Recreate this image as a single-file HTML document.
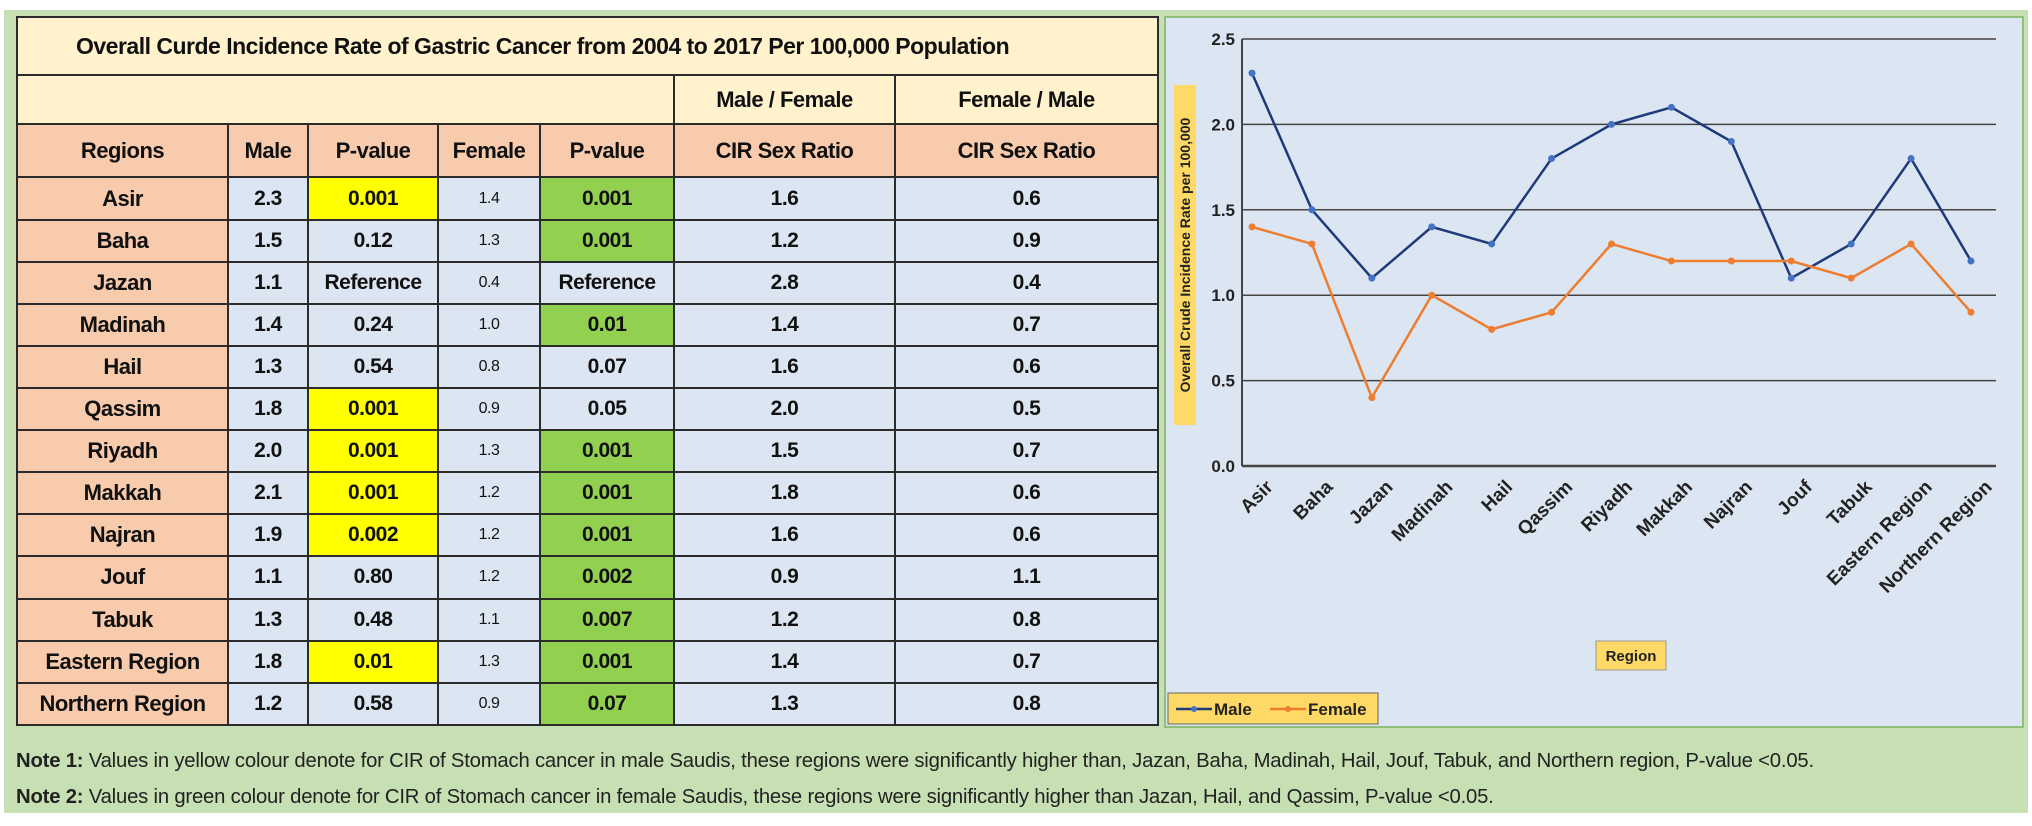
<!DOCTYPE html>
<html><head><meta charset="utf-8">
<style>
body{margin:0;width:2032px;height:826px;background:#fff;position:relative;overflow:hidden;font-family:"Liberation Sans",sans-serif;}
#bg{position:absolute;left:4px;top:10px;width:2024px;height:803px;background:#c6e0b4;}
table{position:absolute;left:16px;top:16px;border-collapse:collapse;table-layout:fixed;width:1141px;height:710px;}
td{border:2px solid #2b2b2b;text-align:center;font-size:21px;font-weight:bold;color:#111;padding:0;background:#dce6f2;letter-spacing:-0.5px;white-space:nowrap;}
td.t{background:#fff2cc;text-align:left;padding-left:58px;font-size:23px;}
td.h1{background:#fff2cc;font-size:22px;}
td.h{background:#f8cbad;font-size:22px;}
td.r{background:#f8cbad;font-size:22px;}
td.y{background:#ffff00;}
td.g{background:#92d050;}
td.f{font-size:16px;font-weight:normal;}
#chartbox{position:absolute;left:1164px;top:16px;width:856px;height:708px;background:#dce6f2;border:2px solid #8fbf7a;}
.note{position:absolute;left:16px;font-size:20.3px;color:#222;letter-spacing:-0.2px;white-space:nowrap;}
</style></head><body>
<div id="bg"></div>
<table>
<colgroup><col style="width:211px"><col style="width:80px"><col style="width:130px"><col style="width:102px"><col style="width:134px"><col style="width:221px"><col style="width:263px"></colgroup>
<tr style="height:58px"><td class="t" colspan="7">Overall Curde Incidence Rate of Gastric Cancer from 2004 to 2017 Per 100,000 Population</td></tr>
<tr style="height:49px"><td class="h1" colspan="5"></td><td class="h1">Male / Female</td><td class="h1">Female / Male</td></tr>
<tr style="height:53px"><td class="h">Regions</td><td class="h">Male</td><td class="h">P-value</td><td class="h">Female</td><td class="h">P-value</td><td class="h">CIR Sex Ratio</td><td class="h">CIR Sex Ratio</td></tr>
<tbody id="tb"></tbody>
</table>
<div id="chartbox"></div>
<svg id="chart" width="2032" height="826" style="position:absolute;left:0;top:0"></svg>
<div class="note" style="top:750px"><b>Note 1:</b> Values in yellow colour denote for CIR of Stomach cancer in male Saudis, these regions were significantly higher than, Jazan, Baha, Madinah, Hail, Jouf, Tabuk, and Northern region, P-value &lt;0.05.</div>
<div class="note" style="top:786px"><b>Note 2:</b> Values in green colour denote for CIR of Stomach cancer in female Saudis, these regions were significantly higher than Jazan, Hail, and Qassim, P-value &lt;0.05.</div>
<script>
const rows=[
["Asir","2.3","0.001","1.4","0.001","1.6","0.6","y","g"],
["Baha","1.5","0.12","1.3","0.001","1.2","0.9","","g"],
["Jazan","1.1","Reference","0.4","Reference","2.8","0.4","",""],
["Madinah","1.4","0.24","1.0","0.01","1.4","0.7","","g"],
["Hail","1.3","0.54","0.8","0.07","1.6","0.6","",""],
["Qassim","1.8","0.001","0.9","0.05","2.0","0.5","y",""],
["Riyadh","2.0","0.001","1.3","0.001","1.5","0.7","y","g"],
["Makkah","2.1","0.001","1.2","0.001","1.8","0.6","y","g"],
["Najran","1.9","0.002","1.2","0.001","1.6","0.6","y","g"],
["Jouf","1.1","0.80","1.2","0.002","0.9","1.1","","g"],
["Tabuk","1.3","0.48","1.1","0.007","1.2","0.8","","g"],
["Eastern Region","1.8","0.01","1.3","0.001","1.4","0.7","y","g"],
["Northern Region","1.2","0.58","0.9","0.07","1.3","0.8","","g"]];
const tb=document.getElementById('tb');
rows.forEach(r=>{
 const tr=document.createElement('tr');tr.style.height='42px';
 
 
 for(let i=0;i<7;i++){const td=document.createElement('td');td.textContent=r[i];
  if(i==0)td.className='r';if(i==2&&r[7])td.className='y';if(i==4&&r[8])td.className='g';if(i==3)td.className='f';
  tr.appendChild(td);}
 tb.appendChild(tr);
});
// chart data
const categories=["Asir","Baha","Jazan","Madinah","Hail","Qassim","Riyadh","Makkah","Najran","Jouf","Tabuk","Eastern Region","Northern Region"];
const maleVals=[2.3,1.5,1.1,1.4,1.3,1.8,2.0,2.1,1.9,1.1,1.3,1.8,1.2];
const femaleVals=[1.4,1.3,0.4,1.0,0.8,0.9,1.3,1.2,1.2,1.2,1.1,1.3,0.9];
const yTicks=[0,0.5,1.0,1.5,2.0,2.5];
const NS='http://www.w3.org/2000/svg';
const svg=document.getElementById('chart');
const L=1242,R=1996,Y0=466,Y1=39,ymax=2.5;
const X0=1252,X1=1971;
const xs=i=>X0+(X1-X0)*i/(categories.length-1);
const ys=v=>Y0-(v/ymax)*(Y0-Y1);
function mk(tag,at,txt){const e=document.createElementNS(NS,tag);for(const k in at)e.setAttribute(k,at[k]);if(txt!=null)e.textContent=txt;svg.appendChild(e);return e;}
// y title
const yb=mk('rect',{x:1174,y:85,width:22,height:340,fill:'#ffd966'});


const yt=mk('text',{x:1190,y:255,'text-anchor':'middle','font-size':14,'font-weight':'bold',fill:'#222',transform:'rotate(-90 1190 255)'},'Overall Crude Incidence Rate per 100,000');


yTicks.forEach(t=>{
 const g=mk('line',{x1:L,x2:R,y1:ys(t),y2:ys(t),stroke:'#444','stroke-width':t==0?2.5:1.5});
 
 
 const tx=mk('text',{x:1235,y:ys(t)+6,'text-anchor':'end','font-size':17,'font-weight':'bold',fill:'#222'},t.toFixed(1));
 
 
});
const ax=mk('line',{x1:L,x2:L,y1:Y1,y2:Y0,stroke:'#444','stroke-width':2});


categories.forEach((c,i)=>{
 const ex=xs(i)+22,ey=Y0+22;
 const t=mk('text',{x:ex,y:ey,'text-anchor':'end','font-size':19,'font-weight':'bold',fill:'#222',transform:`rotate(-45 ${ex} ${ey})`},c);
 
 
});
function series(vals,color,name){
 const p=mk('polyline',{points:vals.map((v,i)=>xs(i)+','+ys(v)).join(' '),fill:'none',stroke:color,'stroke-width':2.5});
 
 
 vals.forEach((v,i)=>{const c=mk('circle',{cx:xs(i),cy:ys(v),r:3.5,fill:name=='male'?'#4472c4':'#ed7d31'});
  
  });
}
series(maleVals,'#1f3a7a','male');
series(femaleVals,'#ed7d31','female');
// x title
const xb=mk('rect',{x:1596,y:641,width:70,height:29,fill:'#ffd966',stroke:'#999'});


const xt=mk('text',{x:1631,y:661,'text-anchor':'middle','font-size':15,'font-weight':'bold',fill:'#222'},'Region');


// legend
const lb=mk('rect',{x:1168,y:693,width:210,height:31,fill:'#ffd966',stroke:'#666'});


mk('line',{x1:1176,x2:1212,y1:709,y2:709,stroke:'#1f3a7a','stroke-width':2.5});
mk('circle',{cx:1194,cy:709,r:3,fill:'#4472c4'});
const lm=mk('text',{x:1214,y:715,'font-size':17,'font-weight':'bold',fill:'#222'},'Male');


mk('line',{x1:1270,x2:1306,y1:709,y2:709,stroke:'#ed7d31','stroke-width':2.5});
mk('circle',{cx:1288,cy:709,r:3,fill:'#ed7d31'});
const lf=mk('text',{x:1308,y:715,'font-size':17,'font-weight':'bold',fill:'#222'},'Female');


</script>
</body></html>
